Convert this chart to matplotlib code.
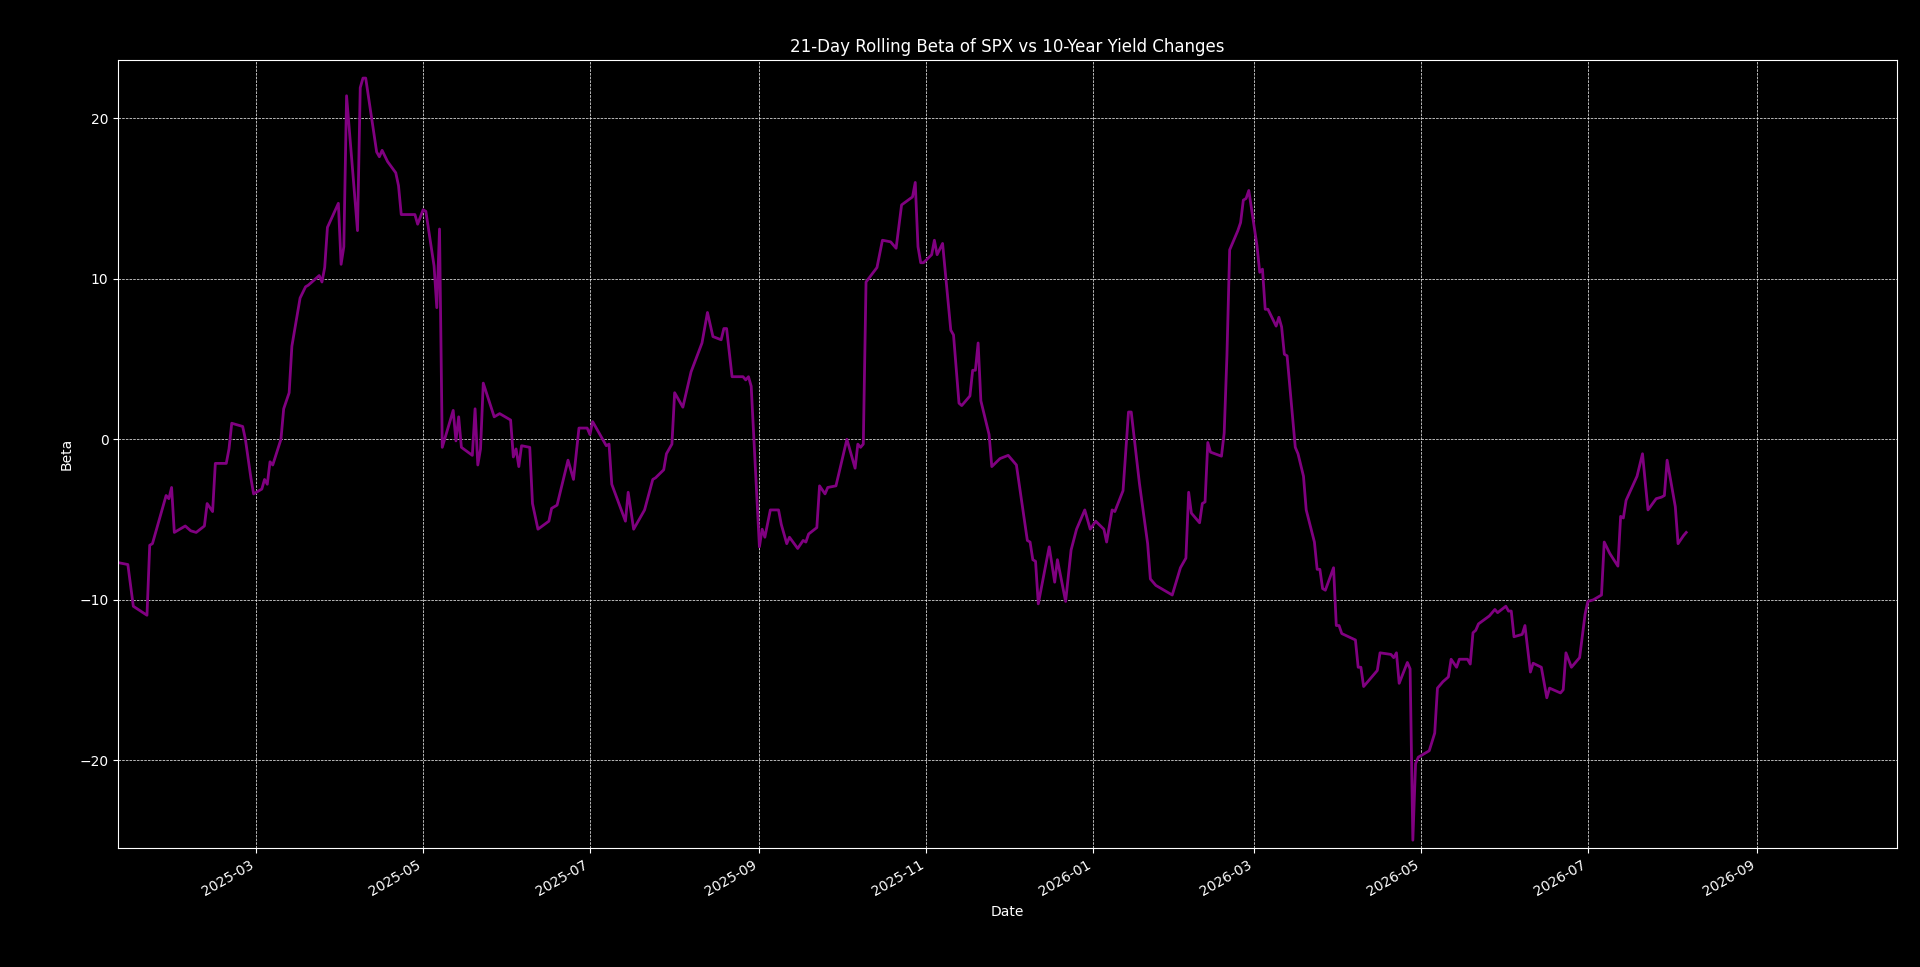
import matplotlib
matplotlib.use("Agg")
import matplotlib.pyplot as plt
import matplotlib.dates as mdates
import pandas as pd

# rolling beta readings (date, beta)
dates = [
    "2025-01-10", "2025-01-13", "2025-01-15", "2025-01-20", "2025-01-21", "2025-01-22", "2025-01-27",
    "2025-01-28", "2025-01-29", "2025-01-30", "2025-02-03", "2025-02-05", "2025-02-07", "2025-02-10",
    "2025-02-11", "2025-02-13", "2025-02-14", "2025-02-18", "2025-02-19", "2025-02-20", "2025-02-24",
    "2025-02-25", "2025-02-27", "2025-02-28", "2025-03-03", "2025-03-04", "2025-03-05", "2025-03-06",
    "2025-03-07", "2025-03-10", "2025-03-11", "2025-03-13", "2025-03-14", "2025-03-17", "2025-03-19",
    "2025-03-20", "2025-03-24", "2025-03-25", "2025-03-26", "2025-03-27", "2025-03-31", "2025-04-01",
    "2025-04-02", "2025-04-03", "2025-04-07", "2025-04-08", "2025-04-09", "2025-04-10", "2025-04-14",
    "2025-04-15", "2025-04-16", "2025-04-18", "2025-04-21", "2025-04-22", "2025-04-23", "2025-04-28",
    "2025-04-29", "2025-05-01", "2025-05-02", "2025-05-05", "2025-05-06", "2025-05-07", "2025-05-08",
    "2025-05-12", "2025-05-13", "2025-05-14", "2025-05-15", "2025-05-19", "2025-05-20", "2025-05-21",
    "2025-05-22", "2025-05-23", "2025-05-27", "2025-05-29", "2025-06-02", "2025-06-03", "2025-06-04",
    "2025-06-05", "2025-06-06", "2025-06-09", "2025-06-10", "2025-06-12", "2025-06-16", "2025-06-17",
    "2025-06-19", "2025-06-23", "2025-06-25", "2025-06-27", "2025-06-30", "2025-07-01", "2025-07-02",
    "2025-07-07", "2025-07-08", "2025-07-09", "2025-07-14", "2025-07-15", "2025-07-17", "2025-07-21",
    "2025-07-24", "2025-07-25", "2025-07-28", "2025-07-29", "2025-07-31", "2025-08-01", "2025-08-04",
    "2025-08-07", "2025-08-11", "2025-08-13", "2025-08-15", "2025-08-18", "2025-08-19", "2025-08-20",
    "2025-08-22", "2025-08-26", "2025-08-27", "2025-08-28", "2025-08-29", "2025-09-01", "2025-09-02",
    "2025-09-03", "2025-09-05", "2025-09-08", "2025-09-09", "2025-09-11", "2025-09-12", "2025-09-15",
    "2025-09-17", "2025-09-18", "2025-09-19", "2025-09-22", "2025-09-23", "2025-09-25", "2025-09-26",
    "2025-09-29", "2025-10-03", "2025-10-06", "2025-10-07", "2025-10-08", "2025-10-09", "2025-10-10",
    "2025-10-14", "2025-10-16", "2025-10-19", "2025-10-21", "2025-10-23", "2025-10-27", "2025-10-28",
    "2025-10-29", "2025-10-30", "2025-10-31", "2025-11-03", "2025-11-04", "2025-11-05", "2025-11-07",
    "2025-11-08", "2025-11-10", "2025-11-11", "2025-11-13", "2025-11-14", "2025-11-17", "2025-11-18",
    "2025-11-19", "2025-11-20", "2025-11-21", "2025-11-24", "2025-11-25", "2025-11-28", "2025-12-01",
    "2025-12-04", "2025-12-08", "2025-12-09", "2025-12-10", "2025-12-11", "2025-12-12", "2025-12-16",
    "2025-12-18", "2025-12-19", "2025-12-22", "2025-12-24", "2025-12-26", "2025-12-29", "2025-12-31",
    "2026-01-02", "2026-01-05", "2026-01-06", "2026-01-08", "2026-01-09", "2026-01-12", "2026-01-14",
    "2026-01-15", "2026-01-18", "2026-01-21", "2026-01-22", "2026-01-24", "2026-01-27", "2026-01-28",
    "2026-01-30", "2026-02-02", "2026-02-04", "2026-02-05", "2026-02-06", "2026-02-09", "2026-02-10",
    "2026-02-11", "2026-02-12", "2026-02-13", "2026-02-17", "2026-02-18", "2026-02-19", "2026-02-20",
    "2026-02-23", "2026-02-24", "2026-02-25", "2026-02-26", "2026-02-27", "2026-03-02", "2026-03-03",
    "2026-03-04", "2026-03-05", "2026-03-06", "2026-03-09", "2026-03-10", "2026-03-11", "2026-03-12",
    "2026-03-13", "2026-03-16", "2026-03-17", "2026-03-19", "2026-03-20", "2026-03-23", "2026-03-24",
    "2026-03-25", "2026-03-26", "2026-03-27", "2026-03-30", "2026-03-31", "2026-04-01", "2026-04-02",
    "2026-04-07", "2026-04-08", "2026-04-09", "2026-04-10", "2026-04-13", "2026-04-15", "2026-04-16",
    "2026-04-20", "2026-04-21", "2026-04-22", "2026-04-23", "2026-04-26", "2026-04-27", "2026-04-28",
    "2026-04-29", "2026-04-30", "2026-05-04", "2026-05-06", "2026-05-07", "2026-05-09", "2026-05-11",
    "2026-05-12", "2026-05-14", "2026-05-15", "2026-05-18", "2026-05-19", "2026-05-20", "2026-05-21",
    "2026-05-22", "2026-05-26", "2026-05-28", "2026-05-29", "2026-06-01", "2026-06-02", "2026-06-03",
    "2026-06-04", "2026-06-07", "2026-06-08", "2026-06-10", "2026-06-11", "2026-06-14", "2026-06-16",
    "2026-06-17", "2026-06-21", "2026-06-22", "2026-06-23", "2026-06-25", "2026-06-28", "2026-06-30",
    "2026-07-01", "2026-07-03", "2026-07-06", "2026-07-07", "2026-07-09", "2026-07-12", "2026-07-13",
    "2026-07-14", "2026-07-15", "2026-07-19", "2026-07-21", "2026-07-23", "2026-07-26", "2026-07-28",
    "2026-07-29", "2026-07-30", "2026-08-02", "2026-08-03", "2026-08-05", "2026-08-06",
]
beta = [
    -7.7, -7.8, -10.4, -10.96, -6.6, -6.5, -3.5,
    -3.7, -3.0, -5.8, -5.4, -5.7, -5.8, -5.4,
    -4.0, -4.5, -1.5, -1.5, -0.6, 1.0, 0.8,
    0.0, -2.4, -3.4, -3.1, -2.5, -2.8, -1.4,
    -1.6, 0.0, 1.9, 2.9, 5.8, 8.8, 9.5,
    9.6, 10.2, 9.8, 10.7, 13.2, 14.7, 10.9,
    12.0, 21.4, 13.0, 21.9, 22.5, 22.5, 17.9,
    17.6, 18.0, 17.3, 16.6, 15.8, 14.0, 14.0,
    13.4, 14.3, 14.2, 10.8, 8.2, 13.1, -0.5,
    1.8, -0.1, 1.4, -0.5, -1.0, 1.9, -1.6,
    -0.6, 3.5, 1.4, 1.6, 1.2, -1.1, -0.6,
    -1.7, -0.4, -0.5, -4.0, -5.6, -5.1, -4.3,
    -4.1, -1.3, -2.5, 0.7, 0.7, 0.3, 1.1,
    -0.4, -0.3, -2.8, -5.1, -3.3, -5.6, -4.4,
    -2.5, -2.4, -1.9, -0.9, -0.3, 2.9, 2.0,
    4.2, 6.0, 7.9, 6.4, 6.2, 6.9, 6.9,
    3.9, 3.9, 3.7, 3.9, 3.3, -6.7, -5.6,
    -6.1, -4.4, -4.4, -5.3, -6.5, -6.1, -6.8,
    -6.3, -6.4, -5.9, -5.5, -2.9, -3.4, -3.0,
    -2.9, 0.0, -1.8, -0.3, -0.5, -0.3, 9.8,
    10.7, 12.4, 12.3, 11.9, 14.6, 15.1, 16.0,
    12.0, 11.0, 11.0, 11.5, 12.4, 11.5, 12.2,
    10.4, 6.8, 6.5, 2.25, 2.1, 2.7, 4.3,
    4.3, 6.0, 2.4, 0.3, -1.7, -1.2, -1.0,
    -1.6, -6.3, -6.4, -7.5, -7.6, -10.25, -6.7,
    -8.9, -7.5, -10.1, -6.9, -5.6, -4.4, -5.6,
    -5.1, -5.6, -6.4, -4.4, -4.5, -3.2, 1.7,
    1.7, -2.75, -6.5, -8.7, -9.1, -9.4, -9.5,
    -9.7, -8.0, -7.4, -3.3, -4.6, -5.2, -4.0,
    -3.9, -0.2, -0.8, -1.05, 0.4, 5.2, 11.8,
    13.0, 13.5, 14.9, 15.0, 15.5, 12.05, 10.4,
    10.6, 8.1, 8.1, 7.05, 7.6, 7.0, 5.3,
    5.2, -0.5, -0.9, -2.3, -4.4, -6.4, -8.1,
    -8.1, -9.3, -9.4, -8.0, -11.6, -11.6, -12.1,
    -12.5, -14.2, -14.2, -15.4, -14.8, -14.4, -13.3,
    -13.4, -13.6, -13.3, -15.2, -13.9, -14.3, -24.97,
    -20.2, -19.8, -19.4, -18.3, -15.5, -15.1, -14.8,
    -13.7, -14.2, -13.7, -13.7, -14.0, -12.05, -11.9,
    -11.5, -11.0, -10.6, -10.8, -10.4, -10.7, -10.7,
    -12.3, -12.15, -11.6, -14.5, -13.95, -14.2, -16.1,
    -15.5, -15.8, -15.6, -13.3, -14.2, -13.6, -10.9,
    -10.1, -10.0, -9.7, -6.4, -7.1, -7.9, -4.8,
    -4.9, -3.8, -2.3, -0.9, -4.4, -3.7, -3.6,
    -3.5, -1.3, -4.2, -6.5, -6.0, -5.8,
]

plt.style.use('dark_background')

rolling_beta = pd.Series(beta, index=pd.to_datetime(dates))

fig = plt.figure(figsize=(19.2, 9.67), dpi=100)
ax = fig.add_axes([0.0616, 0.1227, 0.9263, 0.8153])
ax.plot(rolling_beta.index, rolling_beta.values, color='purple', linewidth=2)
ax.set_title('21-Day Rolling Beta of SPX vs 10-Year Yield Changes')
ax.set_xlabel('Date')
ax.set_ylabel('Beta')
ax.grid(True, linestyle='--', linewidth=0.5)

ax.set_xlim(pd.Timestamp('2025-01-09 12:00'), pd.Timestamp('2026-10-22'))
ax.set_ylim(-25.48, 23.63)
ax.xaxis.set_major_locator(mdates.MonthLocator(bymonth=[1, 3, 5, 7, 9, 11]))
ax.xaxis.set_major_formatter(mdates.DateFormatter('%Y-%m'))
for lbl in ax.get_xticklabels():
    lbl.set_rotation(30)
    lbl.set_ha('right')

fig.savefig('out.png')
